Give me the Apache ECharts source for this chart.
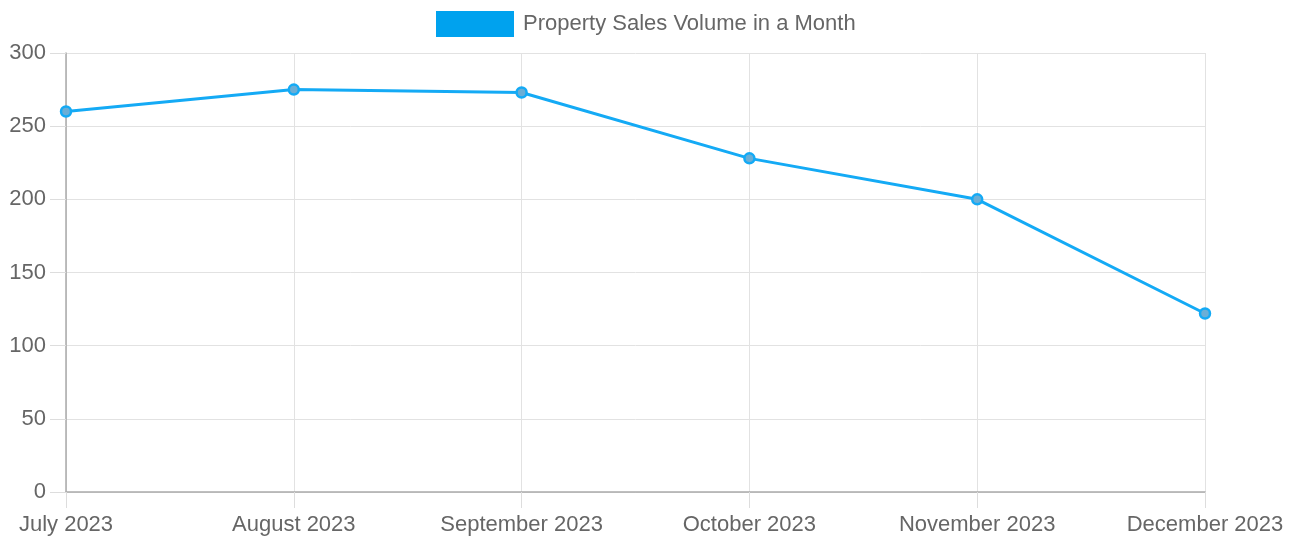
<!DOCTYPE html>
<html>
<head>
<meta charset="utf-8">
<script src="https://cdn.jsdelivr.net/npm/echarts@6/dist/echarts.min.js"></script>
<style>
    html, body { margin: 0; padding: 0; background: #fff; }
    #chart { width: 1299px; height: 536px; }
</style>
</head>
<body>
<div id="chart"></div>
<script>
// 数据
const months = ['July 2023', 'August 2023', 'September 2023', 'October 2023', 'November 2023', 'December 2023'];
const salesVolume = [260, 275, 273, 228, 200, 122];
const seriesName = 'Property Sales Volume in a Month';

const lineColor = '#14aaf5';
const textColor = '#666';

const myChart = echarts.init(document.getElementById('chart'));
const option = {
    animation: false,
    legend: {
        top: 6,
        left: 431,
        itemWidth: 78,
        itemHeight: 26,
        itemGap: 10,
        textStyle: {
            color: textColor,
            fontSize: 22,
            fontFamily: 'Liberation Sans',
            padding: [0, 0, 0, 4]
        },
        data: [{ name: seriesName, icon: 'rect', itemStyle: { color: '#00a2ee', borderWidth: 0 } }]
    },
    grid: {
        left: 66,
        right: 94,
        top: 53,
        bottom: 44,
        containLabel: false
    },
    xAxis: {
        type: 'category',
        boundaryGap: false,
        data: months,
        axisLine: { lineStyle: { color: '#aaa', width: 1.5 } },
        axisTick: { show: true, length: 16, lineStyle: { color: '#ddd' } },
        axisLabel: {
            color: textColor,
            fontSize: 22,
            fontFamily: 'Liberation Sans',
            margin: 22,
            interval: 0
        },
        splitLine: { show: true, lineStyle: { color: '#e2e2e2' } }
    },
    yAxis: {
        type: 'value',
        min: 0,
        max: 300,
        interval: 50,
        axisLine: { show: true, lineStyle: { color: '#aaa', width: 1.5 } },
        axisTick: { show: true, length: 16, lineStyle: { color: '#ddd' } },
        axisLabel: {
            color: textColor,
            fontSize: 22,
            fontFamily: 'Liberation Sans',
            margin: 20
        },
        splitLine: { lineStyle: { color: '#e2e2e2' } }
    },
    series: [
        {
            name: seriesName,
            type: 'line',
            data: salesVolume,
            symbol: 'circle',
            symbolSize: 10,
            lineStyle: { color: lineColor, width: 3 },
            itemStyle: { color: '#6aaed6', borderColor: lineColor, borderWidth: 2.5 }
        }
    ]
};
myChart.setOption(option);
</script>
</body>
</html>
